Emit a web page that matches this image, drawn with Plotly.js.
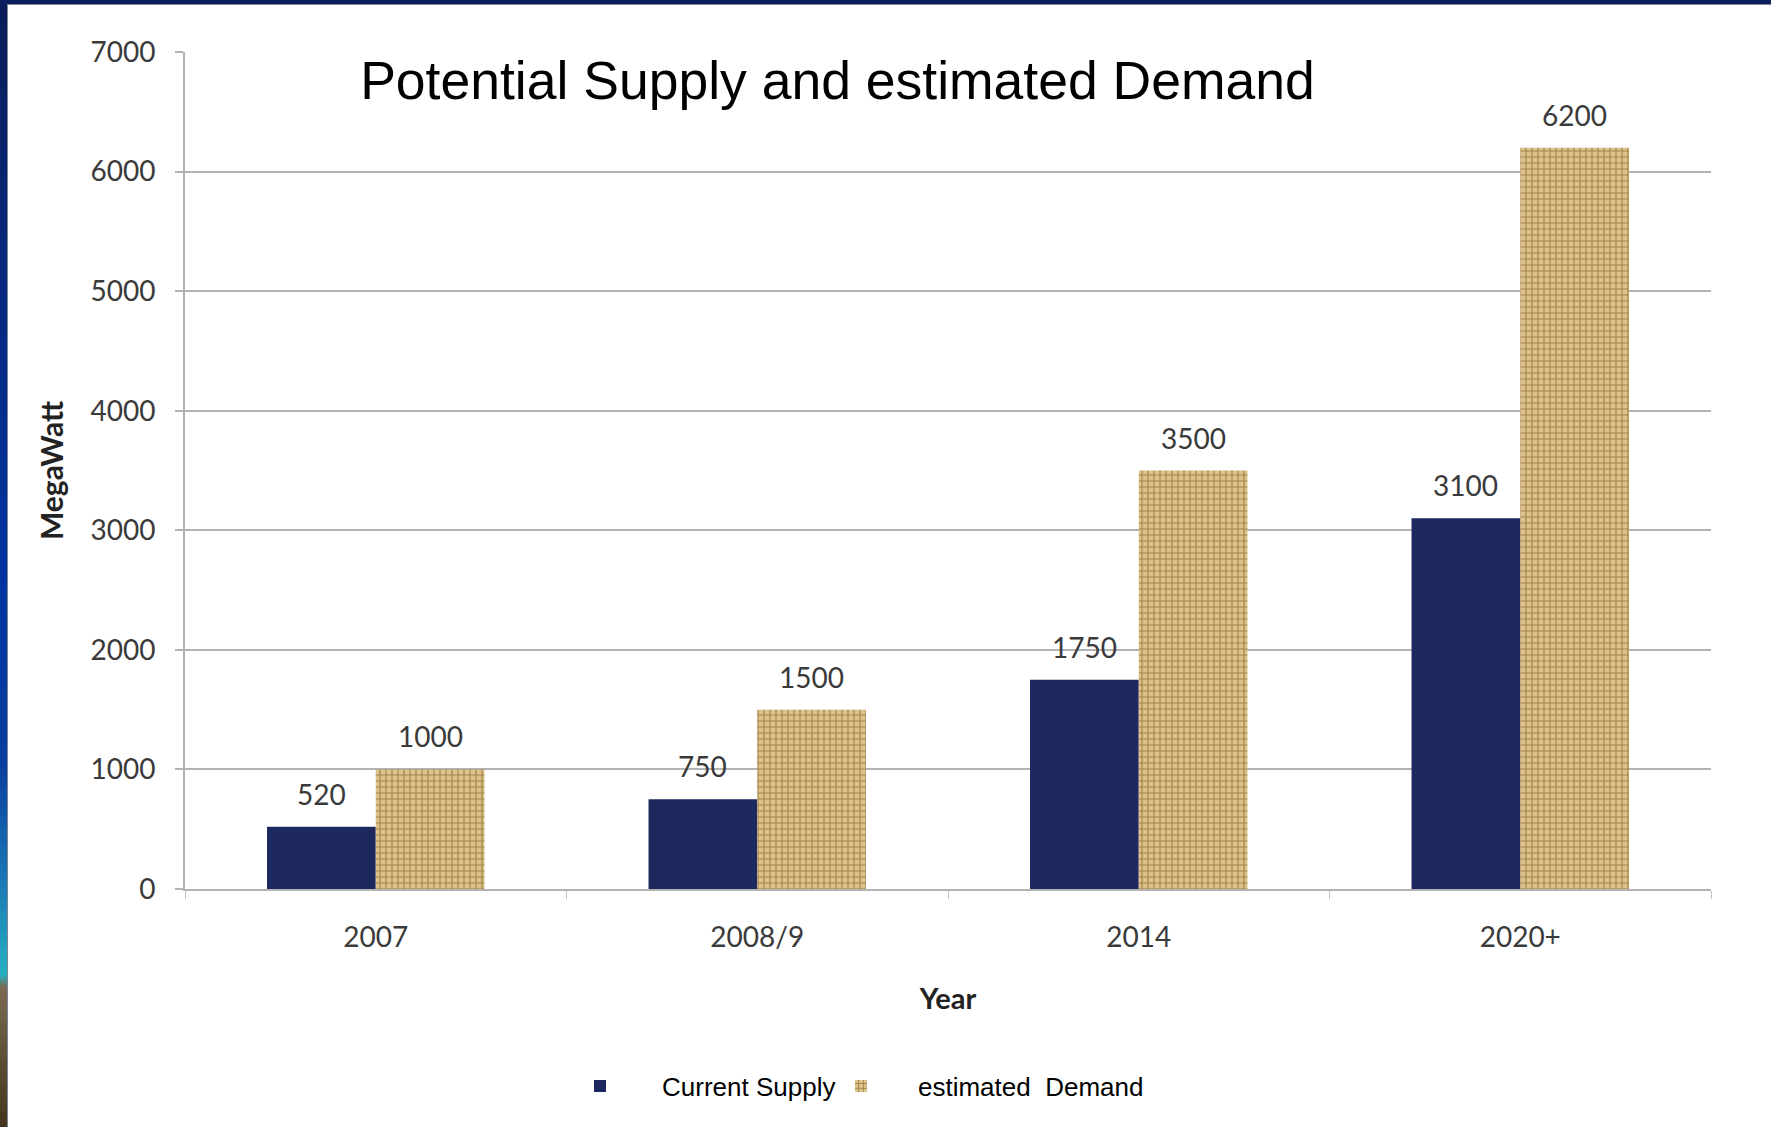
<!DOCTYPE html>
<html>
<head>
<meta charset="utf-8">
<script src="https://cdn.plot.ly/plotly-3.0.1.min.js"></script>
<style>
  html, body { margin: 0; padding: 0; background: #ffffff; }
  #wrap { position: relative; width: 1771px; height: 1127px; overflow: hidden; background: #ffffff; }
  #leftstrip { position: absolute; left: 0; top: 0; width: 7px; height: 1127px;
    background: linear-gradient(to bottom, #0b1d58 0%, #07277a 22%, #0033a0 50%, #0a3fa0 68%, #1a78b4 78%, #27b0c2 86.5%, #7c6b52 87.6%, #62523a 93%, #45351c 100%); }
  #leftline { position: absolute; left: 7px; top: 0; width: 1px; height: 1127px; background: #7d8694; }
  #topstrip { position: absolute; left: 0; top: 0; width: 1771px; height: 4px; background: #0b1f5e; }
  #topline { position: absolute; left: 7px; top: 4px; width: 1764px; height: 1px; background: #7d8694; }
  #chart { position: absolute; left: 0; top: 0; width: 1771px; height: 1127px; }
</style>
</head>
<body>
<div id="wrap">
  <div id="leftstrip"></div>
  <div id="leftline"></div>
  <div id="topstrip"></div>
  <div id="topline"></div>
  <div id="chart"></div>
</div>
<script>
// ---- data ----
const categories = ['2007', '2008/9', '2014', '2020+'];
const currentSupply = [520, 750, 1750, 3100];
const estimatedDemand = [1000, 1500, 3500, 6200];
const seriesNames = ['Current Supply', 'estimated  Demand'];
const yTickValues = [0, 1000, 2000, 3000, 4000, 5000, 6000, 7000];
const chartTitle = 'Potential Supply and estimated Demand';
const xTitle = 'Year';
const yTitle = 'MegaWatt';

// ---- layout constants ----
const W = 1771, H = 1127;
const margin = { l: 185, r: 60, t: 52, b: 238, pad: 0 };
const bargap = 0.43;
const plotW = W - margin.l - margin.r;
const plotH = H - margin.t - margin.b;
const barPx = plotW / categories.length * (1 - bargap) / 2;

const labelFont = { family: 'Lato, "Open Sans", sans-serif', size: 28, color: '#3a3a3a' };
const gray = '#b3b3b3';

const traces = [
  {
    type: 'bar', name: seriesNames[0], x: categories, y: currentSupply,
    marker: { color: '#1d295e', line: { width: 0 } },
    legend: 'legend', hoverinfo: 'x+y'
  },
  {
    type: 'bar', name: seriesNames[1], x: categories, y: estimatedDemand,
    marker: {
      color: '#cdb075',
      line: { width: 0 },
      pattern: { shape: '+', bgcolor: '#dcc38c', fgcolor: '#a3844a', size: 6, solidity: 0.35, fillmode: 'replace' }
    },
    legend: 'legend2', hoverinfo: 'x+y'
  }
];

const annotations = [];
categories.forEach((c, i) => {
  annotations.push({ x: i, y: currentSupply[i], text: String(currentSupply[i]), xref: 'x', yref: 'y',
    xshift: -barPx / 2, yshift: 14, yanchor: 'bottom', showarrow: false, font: labelFont });
  annotations.push({ x: i, y: estimatedDemand[i], text: String(estimatedDemand[i]), xref: 'x', yref: 'y',
    xshift: barPx / 2, yshift: 14, yanchor: 'bottom', showarrow: false, font: labelFont });
});

const legendY = (margin.t + plotH - 1086) / plotH;

const layout = {
  width: W, height: H,
  margin: margin,
  paper_bgcolor: 'rgba(0,0,0,0)',
  plot_bgcolor: 'rgba(0,0,0,0)',
  barmode: 'group',
  bargap: bargap,
  bargroupgap: 0,
  showlegend: true,
  title: {
    text: chartTitle,
    font: { family: 'Liberation Sans, Arial, sans-serif', size: 53.5, color: '#000000' },
    xref: 'paper', yref: 'paper', x: (837.5 - margin.l) / plotW, xanchor: 'center',
    y: 0.966, yanchor: 'middle'
  },
  xaxis: {
    type: 'category',
    categoryorder: 'array', categoryarray: categories,
    range: [-0.5, categories.length - 0.5], autorange: false,
    showline: true, linecolor: gray, linewidth: 2,
    ticks: 'outside', tickson: 'boundaries', ticklen: 8, tickcolor: '#c4c4c4', tickwidth: 1,
    showgrid: false, zeroline: false,
    tickfont: labelFont, tickangle: 0,
    ticklabelstandoff: 22,
    title: { text: xTitle, font: { family: 'Lato, sans-serif', size: 29, color: '#222222', weight: 'bold' }, standoff: 37 }
  },
  yaxis: {
    range: [0, 7000], autorange: false,
    tickvals: yTickValues,
    ticktext: yTickValues.map(String),
    showline: true, linecolor: gray, linewidth: 2,
    ticks: 'outside', ticklen: 8, tickcolor: gray, tickwidth: 2,
    showgrid: true, gridcolor: gray, gridwidth: 2,
    zeroline: false,
    tickfont: labelFont,
    ticklabelstandoff: 14,
    title: { text: yTitle, font: { family: 'Lato, sans-serif', size: 30, color: '#222222', weight: 'bold' }, standoff: 18 }
  },
  legend: {
    orientation: 'h', x: (538 - margin.l) / plotW, xanchor: 'left', y: legendY, yanchor: 'middle',
    bgcolor: 'rgba(0,0,0,0)', borderwidth: 0, itemwidth: 114,
    font: { family: 'Liberation Sans, Arial, sans-serif', size: 26, color: '#000000' }
  },
  legend2: {
    orientation: 'h', x: (804 - margin.l) / plotW, xanchor: 'left', y: legendY, yanchor: 'middle',
    bgcolor: 'rgba(0,0,0,0)', borderwidth: 0, itemwidth: 104,
    font: { family: 'Liberation Sans, Arial, sans-serif', size: 26, color: '#000000' }
  },
  shapes: [
    { type: 'rect', xref: 'paper', yref: 'paper', x0: (359 - margin.l) / plotW, x1: (1403 - margin.l) / plotW,
      y0: 0.93, y1: 1.02, fillcolor: '#ffffff', line: { width: 0 }, layer: 'above' }
  ],
  annotations: annotations
};

Plotly.newPlot('chart', traces, layout, { displayModeBar: false, staticPlot: true });
</script>
</body>
</html>
